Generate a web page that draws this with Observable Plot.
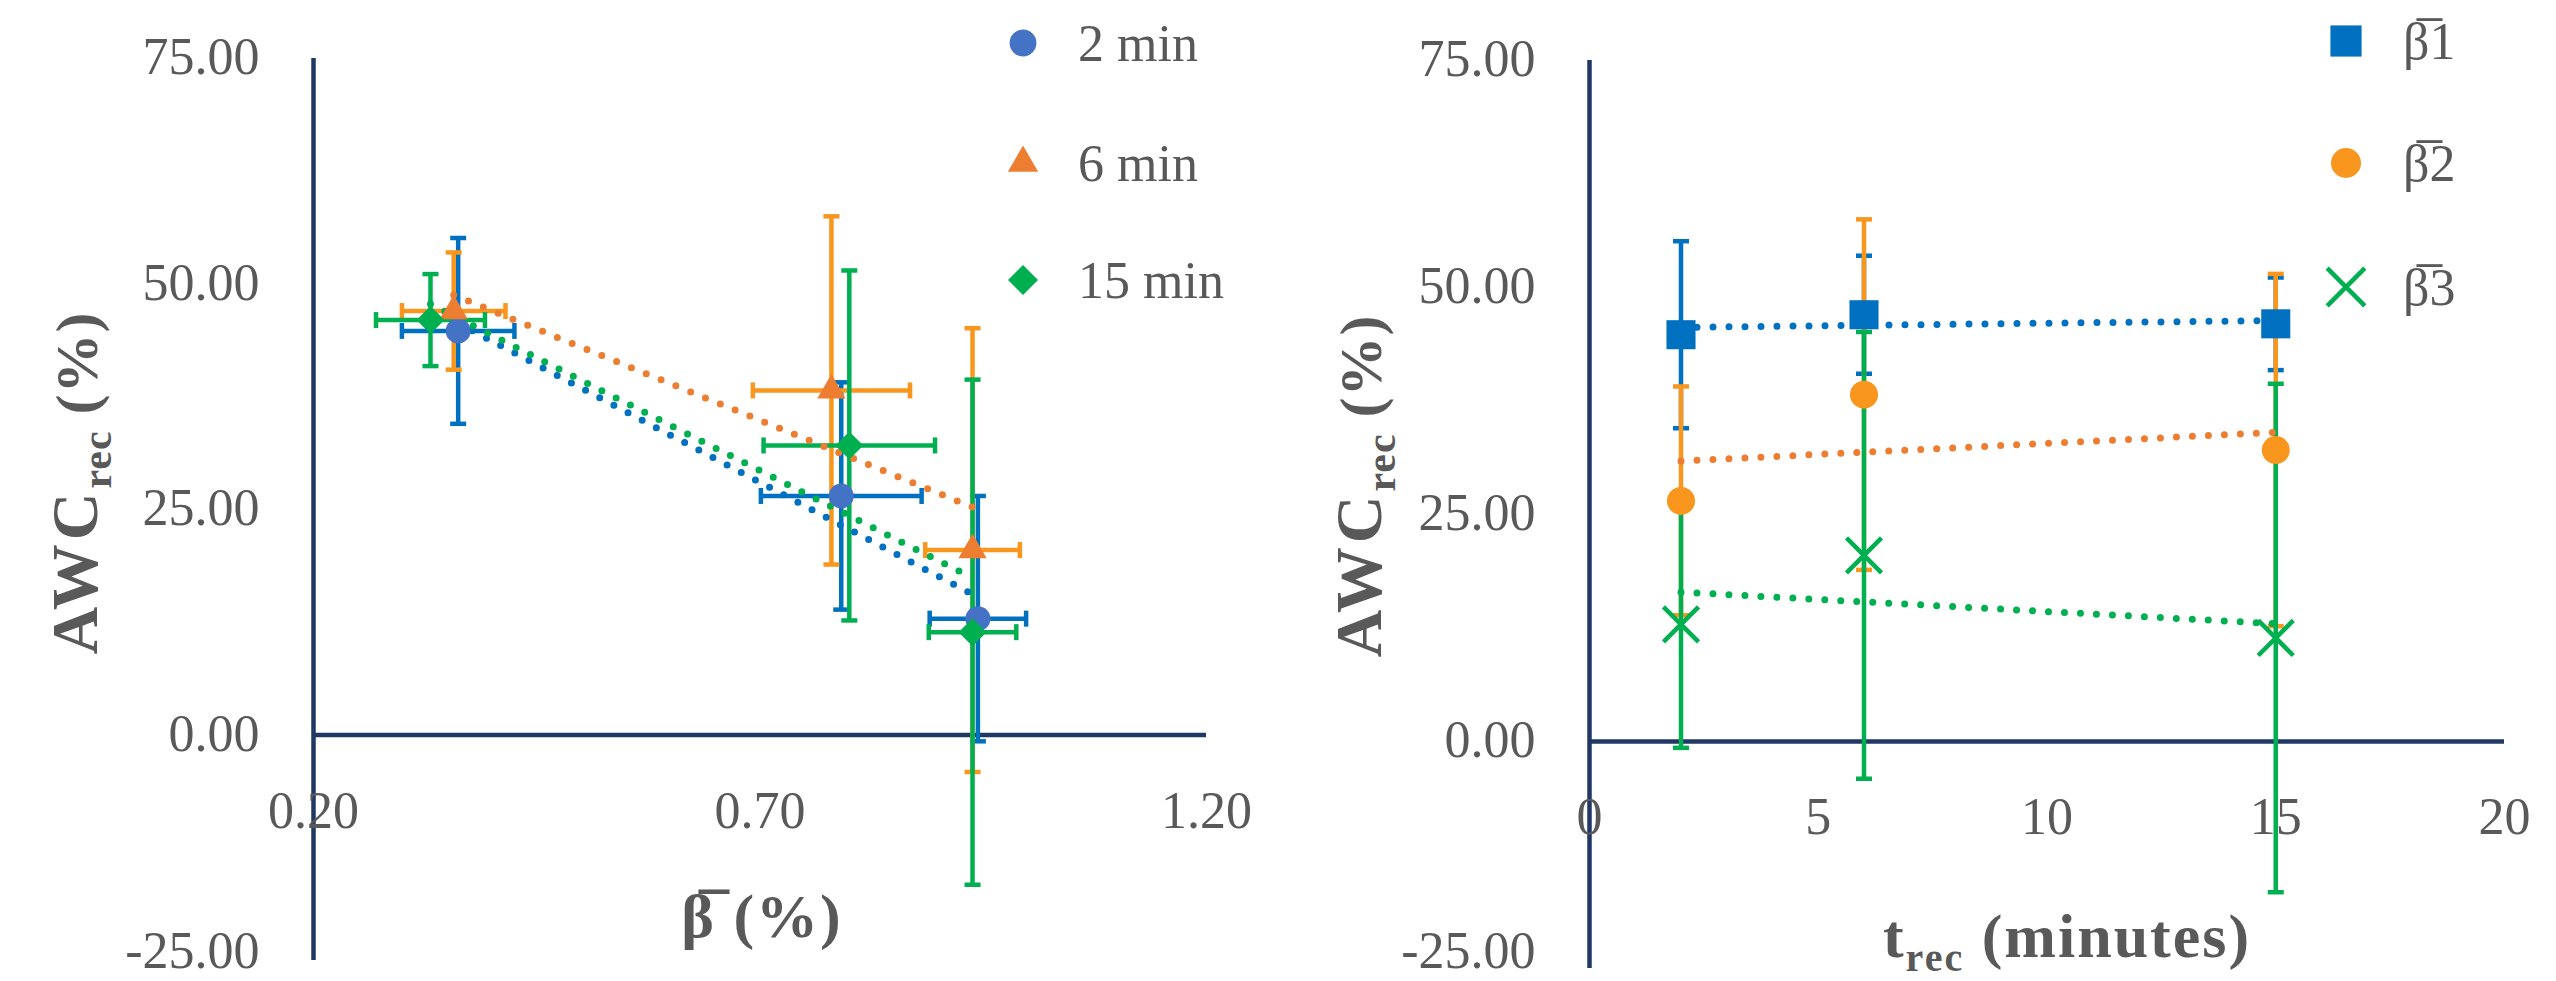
<!DOCTYPE html>
<html><head><meta charset="utf-8">
<script src="https://cdn.jsdelivr.net/npm/d3@7"></script>
<script src="https://cdn.jsdelivr.net/npm/@observablehq/plot@0.6"></script>
<style>
html,body{margin:0;padding:0;background:#fff;}
#wrap{position:relative;width:2556px;height:981px;overflow:hidden;background:#fff;}
#left{position:absolute;left:0;top:0;}
#right{position:absolute;left:1280px;top:0;}
svg{overflow:visible;}
</style></head><body>
<div id="wrap"><div id="left"></div><div id="right"></div></div>
<script>
// ---------- data ----------
const timeSeries = ["2 min", "6 min", "15 min"];
const recoveryMinutes = [2, 6, 15];
const betaSeries = ["β\u03051", "β\u03052", "β\u03053"];

// mean beta (%) for each time series, at beta levels 1..3
const beta_2min  = [0.362, 0.791, 0.944];
const beta_6min  = [0.357, 0.780, 0.938];
const beta_15min = [0.331, 0.800, 0.938];
const betaErr_2min  = [0.063, 0.090, 0.054];
const betaErr_6min  = [0.058, 0.088, 0.053];
const betaErr_15min = [0.061, 0.096, 0.049];

// AWC_rec (%) for each time series, at beta levels 1..3
const awc_2min  = [44.8, 26.5, 12.9];
const awc_6min  = [47.0, 38.2, 20.5];
const awc_15min = [46.0, 32.1, 11.4];
const awcErr_2min  = [10.3, 12.6, 13.6];
const awcErr_6min  = [6.5, 19.3, 24.6];
const awcErr_15min = [5.1, 19.4, 28.0];

const leftXTicks = [0.2, 0.7, 1.2];
const yTicks = [-25, 0, 25, 50, 75];
const rightXTicks = [0, 5, 10, 15, 20];

// ---------- styles ----------
const FONT = "'Liberation Serif', serif";
const GRAY = "#595959";
const AXIS = "#1F3864";
const leftStyle = [
  {marker: "#4472C4", bar: "#0070C0", trend: "#0070C0", symbol: "circle", r: 12.5},
  {marker: "#ED7D31", bar: "#F8961D", trend: "#ED7D31", symbol: "triangle", r: 10.5},
  {marker: "#00B050", bar: "#00B050", trend: "#00B050", symbol: "diamond2", r: 12.6}
];
const rightStyle = [
  {marker: "#0070C0", bar: "#0070C0", trend: "#0070C0", symbol: "square", r: 16.4, filled: true},
  {marker: "#F8961D", bar: "#F8961D", trend: "#ED7D31", symbol: "circle", r: 14, filled: true},
  {marker: "#00B050", bar: "#00B050", trend: "#00B050", symbol: "times", r: 16, filled: false}
];

const betaByTime = [beta_2min, beta_6min, beta_15min];
const betaErrByTime = [betaErr_2min, betaErr_6min, betaErr_15min];
const awcByTime = [awc_2min, awc_6min, awc_15min];
const awcErrByTime = [awcErr_2min, awcErr_6min, awcErr_15min];

const leftGroups = timeSeries.map((s, i) => beta_2min.map((_, j) => ({
  series: s, x: betaByTime[i][j], ex: betaErrByTime[i][j], y: awcByTime[i][j], ey: awcErrByTime[i][j]
})));
const rightGroups = betaSeries.map((s, j) => recoveryMinutes.map((t, i) => ({
  series: s, x: t, y: awcByTime[i][j], ey: awcErrByTime[i][j]
})));

const hCap = {draw(ctx) { ctx.moveTo(-8, 0); ctx.lineTo(8, 0); }};
const vCap = {draw(ctx) { ctx.moveTo(0, -8); ctx.lineTo(0, 8); }};
const BW = 4.5;

function barMarks(rows, st, horiz) {
  const m = [];
  if (horiz) {
    m.push(Plot.ruleY(rows, {y: "y", x1: d => d.x - d.ex, x2: d => d.x + d.ex, stroke: st.bar, strokeWidth: BW}));
    m.push(Plot.dot(rows, {x: d => d.x - d.ex, y: "y", symbol: vCap, stroke: st.bar, fill: "none", strokeWidth: BW}));
    m.push(Plot.dot(rows, {x: d => d.x + d.ex, y: "y", symbol: vCap, stroke: st.bar, fill: "none", strokeWidth: BW}));
  }
  m.push(Plot.ruleX(rows, {x: "x", y1: d => d.y - d.ey, y2: d => d.y + d.ey, stroke: st.bar, strokeWidth: BW}));
  m.push(Plot.dot(rows, {x: "x", y: d => d.y - d.ey, symbol: hCap, stroke: st.bar, fill: "none", strokeWidth: BW}));
  m.push(Plot.dot(rows, {x: "x", y: d => d.y + d.ey, symbol: hCap, stroke: st.bar, fill: "none", strokeWidth: BW}));
  return m;
}
function trendMark(rows, st) {
  return Plot.linearRegressionY(rows, {x: "x", y: "y", ci: 0, stroke: st.trend, strokeWidth: 7,
    strokeDasharray: "0 16", strokeLinecap: "round"});
}
function markerMark(rows, st) {
  if (st.filled === false)
    return Plot.dot(rows, {x: "x", y: "y", symbol: st.symbol, r: st.r, stroke: st.marker, fill: "none", strokeWidth: 4.5});
  return Plot.dot(rows, {x: "x", y: "y", symbol: st.symbol, r: st.r, fill: st.marker, stroke: "none"});
}
function axisMarks(xDomain, yDomain, xTicks, xFmt, lowDy) {
  const yLabel = {x: xDomain[0], y: d => d, text: d => d.toFixed(2), dx: -54, textAnchor: "end",
    fill: GRAY, fontSize: 52, fontFamily: FONT};
  return [
    Plot.ruleX([xDomain[0]], {y1: yDomain[0], y2: yDomain[1], stroke: AXIS, strokeWidth: 4.5}),
    Plot.ruleY([0], {x1: xDomain[0], x2: xDomain[1], stroke: AXIS, strokeWidth: 4.5}),
    Plot.text(yTicks.filter(d => d > yDomain[0]), {...yLabel, dy: -1}),
    Plot.text(yTicks.filter(d => d === yDomain[0]), {...yLabel, dy: lowDy}),
    Plot.text(xTicks, {x: d => d, y: 0, text: xFmt, dy: 76, fill: GRAY, fontSize: 52, fontFamily: FONT})
  ];
}

function addLegend(svg, names, styles, sx, ys, tx) {
  const g = d3.select(svg).append("g");
  const symMap = {circle: d3.symbolCircle, triangle: d3.symbolTriangle, diamond2: d3.symbolDiamond2,
    square: d3.symbolSquare, times: d3.symbolTimes};
  names.forEach((n, i) => {
    const st = styles[i];
    const size = Math.PI * st.r * st.r * 1.15;
    const p = g.append("path").attr("d", d3.symbol(symMap[st.symbol], size)())
      .attr("transform", `translate(${sx},${ys[i]})`);
    if (st.filled === false) p.attr("fill", "none").attr("stroke", st.marker).attr("stroke-width", 4.5);
    else p.attr("fill", st.marker);
    g.append("text").attr("x", tx).attr("y", ys[i]).attr("dy", "0.35em").attr("text-anchor", "start")
      .attr("fill", GRAY).attr("font-family", FONT).attr("font-size", 52).text(n);
  });
}
function addYTitle(svg, cx, cy) {
  const t = d3.select(svg).append("text")
    .attr("transform", `translate(${cx},${cy}) rotate(-90)`)
    .attr("text-anchor", "middle").attr("dy", "0.35em")
    .attr("fill", GRAY).attr("font-family", FONT).attr("font-weight", "bold")
    .attr("font-size", 66).attr("letter-spacing", 1);
  t.append("tspan").attr("letter-spacing", 4).text("AWC");
  t.append("tspan").attr("font-size", 42).attr("dy", 14).text("rec");
  t.append("tspan").attr("dy", -14).attr("font-size", 60).text(" (%)");
}

// ---------- left chart ----------
const leftX = [0.2, 1.2], yDom = [-25, 75];
const leftMarks = [...axisMarks(leftX, yDom, leftXTicks, d => d.toFixed(2), -9)];
leftGroups.forEach((rows, i) => leftMarks.push(...barMarks(rows, leftStyle[i], true)));
leftGroups.forEach((rows, i) => leftMarks.push(trendMark(rows, leftStyle[i])));
leftGroups.forEach((rows, i) => leftMarks.push(markerMark(rows, leftStyle[i])));

const leftPlot = Plot.plot({
  width: 1280, height: 981,
  marginLeft: 313, marginRight: 74, marginTop: 58, marginBottom: 21,
  x: {domain: leftX, axis: null},
  y: {domain: yDom, axis: null},
  style: {overflow: "visible", background: "transparent"},
  marks: leftMarks
});
document.getElementById("left").appendChild(leftPlot);
addLegend(leftPlot, timeSeries, leftStyle, 1023, [43, 163, 280], 1078);
addYTitle(leftPlot, 74, 483);
{
  const t = d3.select(leftPlot).append("text").attr("x", 762).attr("y", 937)
    .attr("text-anchor", "middle").attr("fill", GRAY).attr("font-family", FONT)
    .attr("font-weight", "bold").attr("font-size", 62).attr("letter-spacing", 2);
  t.append("tspan").text("β\u0305 (%)");
}

// ---------- right chart ----------
const rightX = [0, 20];
const rightMarks = [...axisMarks(rightX, yDom, rightXTicks, d => String(d), -17)];
rightGroups.forEach((rows, j) => rightMarks.push(...barMarks(rows, rightStyle[j], false)));
rightGroups.forEach((rows, j) => rightMarks.push(trendMark(rows, rightStyle[j])));
rightGroups.forEach((rows, j) => rightMarks.push(markerMark(rows, rightStyle[j])));

const rightPlot = Plot.plot({
  width: 1276, height: 981,
  marginLeft: 309, marginRight: 52, marginTop: 60, marginBottom: 13,
  x: {domain: rightX, axis: null},
  y: {domain: yDom, axis: null},
  style: {overflow: "visible", background: "transparent"},
  marks: rightMarks
});
document.getElementById("right").appendChild(rightPlot);
addLegend(rightPlot, betaSeries, rightStyle, 1066, [41, 163, 287], 1123);
addYTitle(rightPlot, 78, 486);
{
  const t = d3.select(rightPlot).append("text").attr("x", 787).attr("y", 957)
    .attr("text-anchor", "middle").attr("fill", GRAY).attr("font-family", FONT)
    .attr("font-weight", "bold").attr("font-size", 62).attr("letter-spacing", 2);
  t.append("tspan").text("t");
  t.append("tspan").attr("font-size", 40).attr("dy", 14).text("rec");
  t.append("tspan").attr("dy", -14).text(" (minutes)");
}
</script>
</body></html>
